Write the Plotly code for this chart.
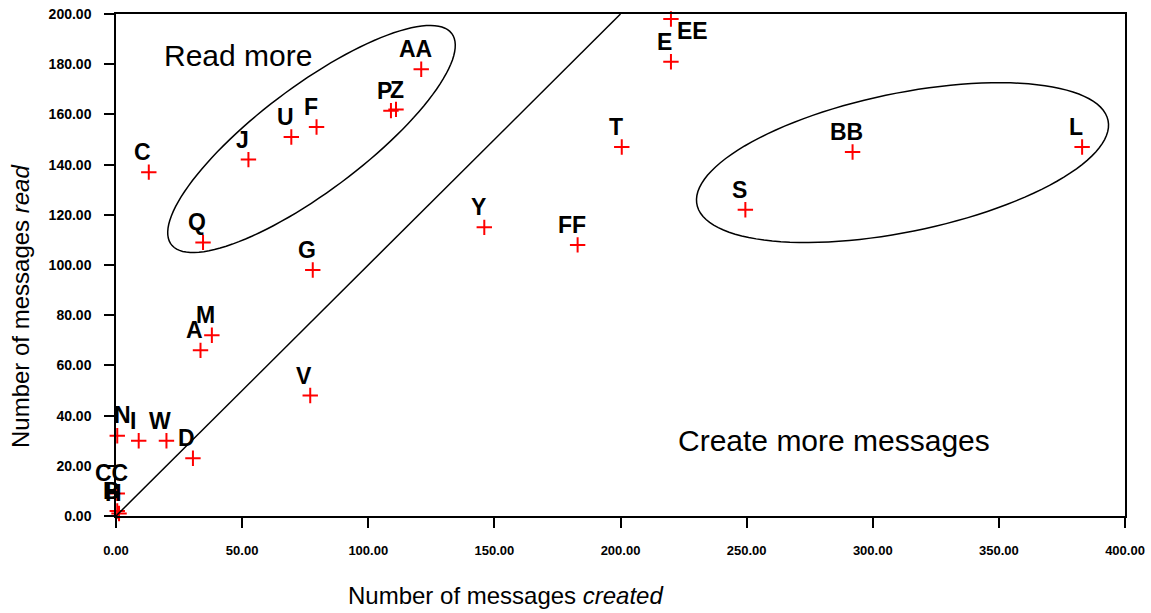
import numpy as np
import plotly.graph_objects as go

# ---- data ----
labels = ["AA", "P", "Z", "F", "U", "J", "C", "Q", "G", "EE", "E", "T", "Y", "FF",
          "V", "M", "A", "BB", "L", "S", "N", "I", "W", "D", "CC", "B", "H"]
created = [121.0, 109.0, 111.0, 79.5, 69.5, 52.5, 13.0, 34.5, 78.0, 220.0, 220.0, 200.5,
           146.0, 183.0, 77.0, 38.0, 33.5, 292.0, 383.0, 249.5, 0.5, 9.0, 20.0, 30.5,
           0.5, 0.5, 1.2]
read = [178.0, 161.5, 162.0, 155.0, 151.0, 142.0, 137.0, 109.0, 98.0, 198.0, 181.0, 147.0,
        115.0, 108.0, 48.0, 72.0, 66.0, 145.0, 147.0, 122.0, 32.0, 30.0, 30.0, 23.0,
        9.0, 2.0, 1.0]

x_ticks = [0, 50, 100, 150, 200, 250, 300, 350, 400]
y_ticks = [0, 20, 40, 60, 80, 100, 120, 140, 160, 180, 200]

# special label offsets (pixels) for crowded labels
default_shift = (-6, 20)
special_shift = {"EE": (22, -12), "N": (5, 21), "Z": (1, 19)}

# region ellipses (center x, center y, semi-major, semi-minor, angle deg) in data units
ellipses = [(77.5, 150.2, 69.7, 20.9, 37.1), (311.8, 140.8, 83.2, 27.6, 11.65)]


def ellipse_path(cx, cy, a, b, ang, n=120):
    t = np.linspace(0, 2 * np.pi, n)
    th = np.radians(ang)
    xs = cx + a * np.cos(t) * np.cos(th) - b * np.sin(t) * np.sin(th)
    ys = cy + a * np.cos(t) * np.sin(th) + b * np.sin(t) * np.cos(th)
    return "M " + " L ".join(f"{x:.3f},{y:.3f}" for x, y in zip(xs, ys)) + " Z"


FONT = "Arial, Liberation Sans"
fig = go.Figure()
fig.add_trace(go.Scatter(
    x=created, y=read, mode="markers",
    marker=dict(symbol="cross-thin", size=11, color="red",
                line=dict(color="red", width=2)),
    cliponaxis=False, showlegend=False, hoverinfo="text", text=labels,
))

for lab, xv, yv in zip(labels, created, read):
    dx, dy = special_shift.get(lab, default_shift)
    fig.add_annotation(x=xv, y=yv, text=lab, showarrow=False, xshift=dx, yshift=dy,
                       xanchor="center", yanchor="middle",
                       font=dict(family=FONT, size=23, color="black", weight="bold"))

shapes = [dict(type="line", xref="x", yref="y", x0=0, y0=0, x1=200, y1=200,
               line=dict(color="black", width=1.5))]
for cx, cy, a, b, ang in ellipses:
    shapes.append(dict(type="path", xref="x", yref="y", path=ellipse_path(cx, cy, a, b, ang),
                       line=dict(color="black", width=1.5)))

fig.add_annotation(x=48.5, y=183.5, xref="x", yref="y", text="Read more", showarrow=False,
                   xanchor="center", yanchor="middle",
                   font=dict(family=FONT, size=30, color="black"))
fig.add_annotation(x=284.5, y=30, xref="x", yref="y", text="Create more messages",
                   showarrow=False, xanchor="center", yanchor="middle",
                   font=dict(family=FONT, size=30, color="black"))

W, H = 1151, 613
ml, mr, mt, mb = 116, 26, 14, 97
pw, ph = W - ml - mr, H - mt - mb
fig.add_annotation(x=(505 - ml) / pw, y=(H - mb - 595) / ph,
                   xref="paper", yref="paper", xanchor="center", yanchor="middle",
                   text="Number of messages <i>created</i>", showarrow=False,
                   font=dict(family=FONT, size=24, color="black"))
fig.add_annotation(x=(21 - ml) / pw, y=(H - mb - 307) / ph,
                   xref="paper", yref="paper", xanchor="center", yanchor="middle",
                   text="Number of messages <i>read</i>", showarrow=False, textangle=-90,
                   font=dict(family=FONT, size=24, color="black"))

axis_common = dict(showline=True, linecolor="black", linewidth=1.5, mirror=True,
                   ticks="outside", ticklen=10, tickwidth=1.5, tickcolor="black",
                   showgrid=False, zeroline=False, tickformat=".2f", automargin=False,
                   ticklabeloverflow="allow")
fig.update_xaxes(range=[0, 400], tickvals=x_ticks, ticklabelstandoff=12,
                 tickfont=dict(family=FONT, size=13, color="black", weight="bold"),
                 **axis_common)
fig.update_yaxes(range=[0, 200], tickvals=y_ticks, ticklabelstandoff=10,
                 tickfont=dict(family=FONT, size=14, color="black", weight="bold"),
                 **axis_common)

fig.update_layout(width=W, height=H, margin=dict(l=ml, r=mr, t=mt, b=mb),
                  paper_bgcolor="white", plot_bgcolor="white", shapes=shapes,
                  showlegend=False)

fig.write_html("out.html", config={"displayModeBar": False},
               post_script="document.body.style.margin='0';document.body.style.overflow='hidden';")
